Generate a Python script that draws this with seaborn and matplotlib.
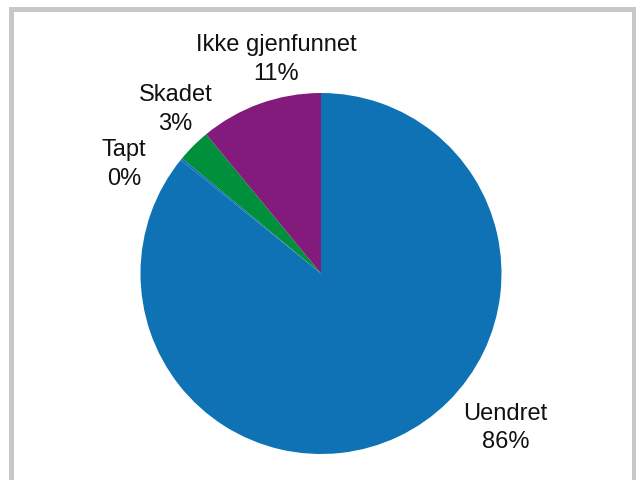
import matplotlib.pyplot as plt
import seaborn as sns
from matplotlib.patches import Rectangle

sns.set_theme(style="white")
plt.rcParams['font.family'] = ['Liberation Sans', 'DejaVu Sans']

# data
categories = ["Uendret", "Tapt", "Skadet", "Ikke gjenfunnet"]
values = [86, 0.2, 3, 11]
colors = ["#0e72b5", "#0e72b5", "#008f3a", "#831b7c"]

# label placement (data units, pie radius = 1)
label_pos = [(1.022, -0.85), (-1.09, 0.61), (-0.806, 0.915), (-0.25, 1.19)]

W, H = 636, 481
fig = plt.figure(figsize=(W / 100, H / 100), dpi=100)
fig.patch.set_facecolor("white")

cx, cy, r = 321, 274.5, 180.5
ax = fig.add_axes([(cx - r) / W, (H - cy - r) / H, 2 * r / W, 2 * r / H])
wedges, _ = ax.pie(values, colors=colors, startangle=90, counterclock=False,
                   wedgeprops=dict(linewidth=0))
ax.set_xlim(-1, 1)
ax.set_ylim(-1, 1)
ax.set_aspect("equal")
ax.axis("off")

total = sum(values)
for name, v, (x, y) in zip(categories, values, label_pos):
    ax.text(x, y, "{}\n{:.0f}%".format(name, 100 * v / total), ha="center", va="center",
            fontsize=17, color="#111111", linespacing=1.38, clip_on=False)

# light grey frame around the figure
fig.patches.append(Rectangle((10.5 / W, -0.1), (633.5 - 10.5) / W, (H - 9.5) / H + 0.1,
                             transform=fig.transFigure, fill=False,
                             edgecolor="#c8c8c8", linewidth=3.6))

fig.savefig("out.png", dpi=100)
